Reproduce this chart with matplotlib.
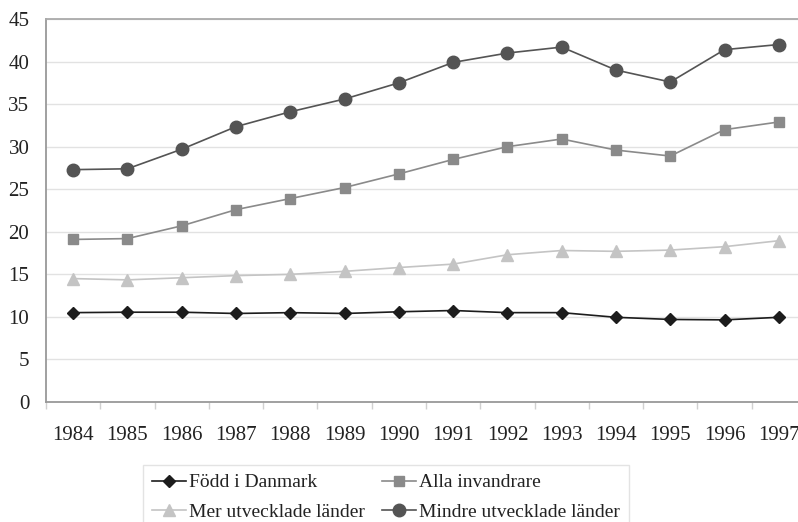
import matplotlib
matplotlib.use("Agg")
import matplotlib.pyplot as plt
import numpy as np

years = ["1984", "1985", "1986", "1987", "1988", "1989", "1990",
         "1991", "1992", "1993", "1994", "1995", "1996", "1997"]
fodd_i_danmark = [10.5, 10.55, 10.55, 10.4, 10.5, 10.4, 10.6,
                  10.75, 10.5, 10.5, 9.95, 9.7, 9.65, 9.95]
alla_invandrare = [19.1, 19.2, 20.7, 22.6, 23.9, 25.2, 26.8,
                   28.5, 30.0, 30.9, 29.6, 28.9, 32.0, 32.9]
mer_utvecklade = [14.5, 14.35, 14.6, 14.85, 15.0, 15.35, 15.8,
                  16.2, 17.3, 17.8, 17.7, 17.85, 18.25, 18.95]
mindre_utvecklade = [27.3, 27.4, 29.7, 32.35, 34.1, 35.6, 37.5,
                     39.9, 41.0, 41.7, 39.0, 37.6, 41.4, 42.0]
y_ticks = [0, 5, 10, 15, 20, 25, 30, 35, 40, 45]

plt.rcParams['font.family'] = ['Liberation Serif', 'DejaVu Serif']

W, H = 798, 522
fig = plt.figure(figsize=(W / 100, H / 100), dpi=100)
left, right, top, bottom = 46, 806, 19, 402
ax = fig.add_axes([left / W, 1 - bottom / H, (right - left) / W, (bottom - top) / H])

x = np.arange(len(years))
l1, = ax.plot(x, fodd_i_danmark, color='#1c1c1c', lw=1.2, marker='D', ms=6.5,
              label='Född i Danmark', zorder=5)
l2, = ax.plot(x, alla_invandrare, color='#8a8a8a', lw=1.2, marker='s', ms=7.5,
              label='Alla invandrare', zorder=4)
l3, = ax.plot(x, mer_utvecklade, color='#c4c4c4', lw=1.2, marker='^', ms=9,
              label='Mer utvecklade länder', zorder=3)
l4, = ax.plot(x, mindre_utvecklade, color='#545454', lw=1.2, marker='o', ms=9,
              label='Mindre utvecklade länder', zorder=4)

ax.set_xlim(-0.5, len(years) - 0.5)
ax.set_ylim(0, 45)
ax.set_yticks(y_ticks)
ax.set_yticklabels([str(v) for v in y_ticks])
ax.tick_params(axis='y', length=0, pad=12, labelsize=15, colors='#222222')
ax.yaxis.grid(True, color='#e2e2e2', lw=1)
ax.set_axisbelow(True)

ax.set_xticks(x)
ax.set_xticklabels(years)
ax.set_xticks(np.arange(-0.5, len(years), 1.0), minor=True)
ax.tick_params(axis='x', which='major', length=0, pad=17, labelsize=15, colors='#222222')
ax.tick_params(axis='x', which='minor', length=5, color='#d0d0d0', width=1)

for s in ['left', 'bottom']:
    ax.spines[s].set_color('#999999')
    ax.spines[s].set_linewidth(1.3)
ax.spines['top'].set_color('#aaaaaa')
ax.spines['top'].set_linewidth(1.3)
ax.spines['right'].set_visible(False)

leg = fig.legend([l1, l3, l2, l4],
                 ['Född i Danmark', 'Mer utvecklade länder',
                  'Alla invandrare', 'Mindre utvecklade länder'],
                 ncol=2, loc='upper left',
                 bbox_to_anchor=(143 / W, 1 - 465 / H),
                 fontsize=14, frameon=True, fancybox=False,
                 handlelength=1.75, handletextpad=0.15, columnspacing=0.9,
                 labelspacing=0.6, borderpad=0.45, borderaxespad=0)
leg.get_frame().set_edgecolor('#dddddd')
leg.get_frame().set_linewidth(1)
for t in leg.get_texts():
    t.set_color('#222222')

fig.savefig('out.png', dpi=100)
